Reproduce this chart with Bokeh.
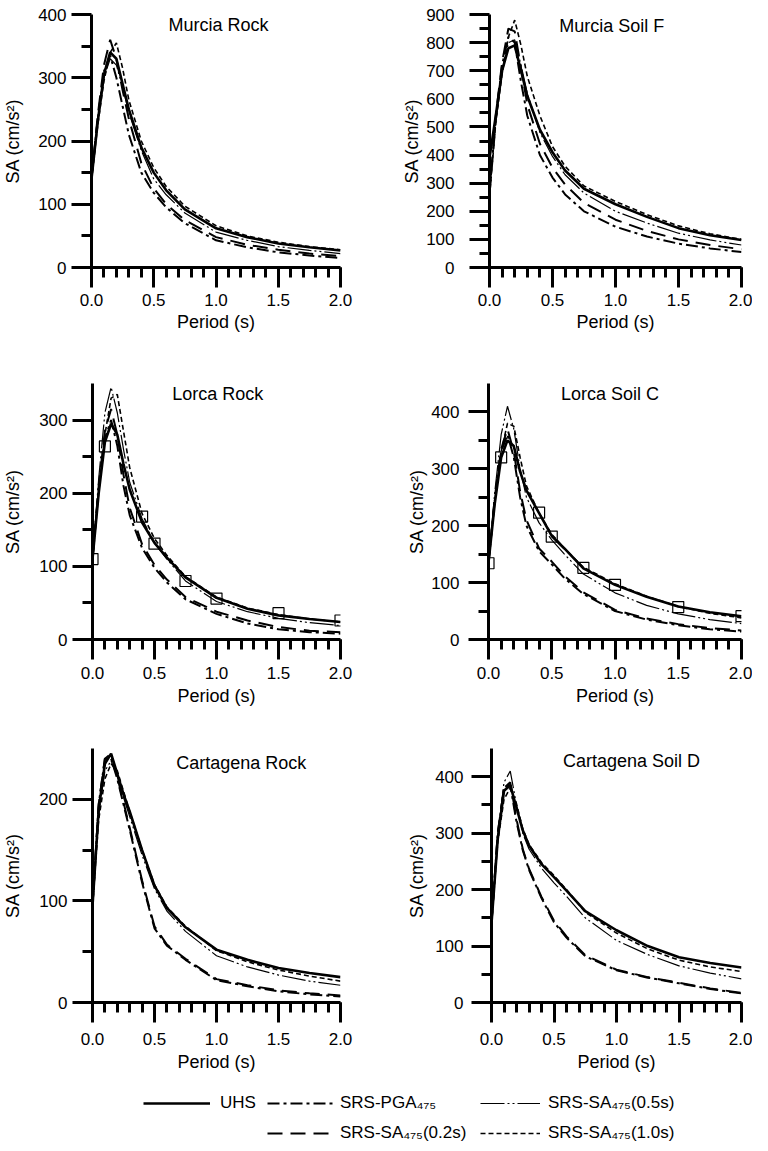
from bokeh.plotting import figure
from bokeh.models import Range1d, FixedTicker, NumeralTickFormatter, Label, Legend, LegendItem
from bokeh.layouts import column, row
from bokeh.embed import file_html
from bokeh.resources import INLINE

FONT = "Liberation Sans"

# ---------------- data ----------------
periods = [0.0, 0.05, 0.1, 0.15, 0.2, 0.25, 0.3, 0.4, 0.5, 0.6, 0.75, 1.0, 1.25, 1.5, 1.75, 2.0]

x_major = [0.0, 0.5, 1.0, 1.5, 2.0]
x_minor = [0.0, 0.1, 0.2, 0.3, 0.4, 0.5, 0.6, 0.7, 0.8, 0.9, 1.0,
           1.1, 1.2, 1.3, 1.4, 1.5, 1.6, 1.7, 1.8, 1.9, 2.0]

series_keys = ["uhs", "pga", "sa02", "sa05", "sa10"]
series_labels = {
    "uhs": "UHS",
    "pga": "SRS-PGA\u2084\u2087\u2085",
    "sa02": "SRS-SA\u2084\u2087\u2085(0.2s)",
    "sa05": "SRS-SA\u2084\u2087\u2085(0.5s)",
    "sa10": "SRS-SA\u2084\u2087\u2085(1.0s)",
}

# Murcia Rock
mr_uhs = [140, 230, 305, 340, 330, 290, 250, 190, 150, 122, 92, 62, 48, 38, 32, 27]
mr_pga = [140, 235, 310, 335, 300, 255, 210, 150, 118, 95, 70, 43, 32, 24, 19, 15]
mr_sa02 = [140, 240, 320, 360, 330, 280, 235, 165, 125, 100, 75, 48, 36, 28, 22, 18]
mr_sa05 = [140, 230, 300, 330, 320, 285, 245, 185, 140, 115, 86, 56, 43, 33, 27, 22]
mr_sa10 = [140, 225, 295, 340, 355, 315, 265, 200, 158, 128, 97, 66, 50, 40, 33, 28]

# Murcia Soil F
ms_uhs = [390, 540, 700, 780, 790, 700, 610, 490, 410, 345, 280, 225, 180, 140, 115, 98]
ms_pga = [270, 530, 720, 820, 800, 660, 540, 400, 320, 260, 200, 145, 110, 85, 68, 55]
ms_sa02 = [260, 540, 730, 850, 840, 710, 580, 440, 355, 295, 230, 170, 130, 100, 80, 65]
ms_sa05 = [280, 520, 700, 800, 810, 720, 620, 480, 395, 330, 265, 200, 158, 122, 98, 80]
ms_sa10 = [250, 515, 690, 820, 880, 790, 680, 540, 430, 360, 290, 235, 188, 148, 120, 100]

# Lorca Rock
lr_uhs = [110, 200, 270, 295, 280, 240, 205, 160, 132, 112, 85, 57, 42, 33, 28, 24]
lr_pga = [110, 205, 275, 300, 265, 210, 170, 125, 98, 78, 55, 35, 22, 14, 10, 8]
lr_sa02 = [110, 210, 285, 315, 280, 225, 180, 130, 102, 82, 58, 38, 26, 17, 12, 10]
lr_sa05 = [110, 220, 310, 345, 310, 260, 215, 165, 132, 110, 80, 52, 38, 29, 23, 19]
lr_sa10 = [110, 205, 280, 330, 335, 285, 235, 172, 138, 115, 86, 58, 43, 34, 28, 24]
lr_sq_periods = [0.0, 0.1, 0.4, 0.5, 0.75, 1.0, 1.5, 2.0]
lr_sq_values = [110, 264, 168, 131, 80, 56, 36, 26]

# Lorca Soil C
lc_uhs = [135, 240, 320, 350, 340, 295, 262, 222, 182, 160, 125, 96, 75, 58, 48, 41]
lc_pga = [135, 245, 330, 360, 320, 250, 200, 155, 132, 108, 80, 50, 35, 25, 18, 14]
lc_sa02 = [135, 250, 335, 370, 330, 260, 210, 160, 137, 112, 83, 52, 37, 27, 20, 16]
lc_sa05 = [135, 260, 360, 410, 370, 300, 250, 205, 175, 150, 115, 82, 60, 45, 35, 28]
lc_sa10 = [135, 245, 330, 380, 375, 320, 270, 222, 185, 160, 127, 98, 76, 58, 46, 38]
lc_sq_periods = [0.0, 0.1, 0.4, 0.5, 0.75, 1.0, 1.5, 2.0]
lc_sq_values = [134, 320, 223, 181, 126, 96, 57, 41]

# Cartagena Rock
cr_uhs = [95, 190, 235, 245, 225, 205, 188, 150, 115, 93, 74, 52, 42, 34, 29, 25]
cr_pga = [95, 195, 240, 240, 220, 195, 170, 118, 73, 56, 42, 22, 16, 11, 8, 6]
cr_sa02 = [95, 195, 240, 245, 222, 197, 172, 120, 75, 57, 43, 23, 17, 12, 9, 7]
cr_sa05 = [95, 185, 228, 238, 222, 202, 183, 145, 112, 90, 70, 46, 35, 27, 21, 17]
cr_sa10 = [95, 180, 220, 235, 228, 208, 188, 150, 116, 94, 75, 51, 40, 32, 26, 21]

# Cartagena Soil D
cd_uhs = [140, 290, 375, 385, 345, 305, 278, 245, 222, 198, 162, 128, 100, 80, 70, 62]
cd_pga = [140, 300, 380, 385, 320, 270, 235, 185, 142, 115, 82, 57, 44, 34, 24, 16]
cd_sa02 = [140, 300, 380, 390, 325, 272, 237, 187, 145, 117, 84, 58, 45, 35, 25, 17]
cd_sa05 = [140, 295, 390, 410, 350, 300, 272, 238, 212, 188, 150, 110, 85, 65, 52, 42]
cd_sa10 = [140, 285, 360, 380, 352, 308, 280, 248, 225, 200, 160, 123, 95, 75, 63, 55]

# ---------------- styles ----------------
STYLES = {
    "uhs": dict(line_width=2.6, line_dash="solid"),
    "pga": dict(line_width=2.0, line_dash="12 4 3 4"),
    "sa02": dict(line_width=2.0, line_dash="15 8"),
    "sa05": dict(line_width=1.2, line_dash="24 3 2 3 2 3"),
    "sa10": dict(line_width=1.6, line_dash="5 3"),
}


def panel(title, series, ymax, ymajor, yminor, w, h, bl, br, bt, bb, title_xy,
          ytick_so, ylab_so, xtick_so, xlab_so, squares=None):
    p = figure(width=w, height=h, x_range=Range1d(0, 2.0), y_range=Range1d(0, ymax),
               output_backend="svg", toolbar_location=None,
               min_border_left=bl, min_border_right=br, min_border_top=bt, min_border_bottom=bb)
    p.outline_line_color = None
    p.grid.visible = False
    p.background_fill_color = "white"
    p.border_fill_color = "white"
    for key in series_keys:
        p.line(periods, series[key], line_color="black", **STYLES[key])
    if squares is not None:
        p.scatter(squares[0], squares[1], marker="square", size=11, fill_color=None,
                  line_color="black", line_width=1.2)
    p.add_layout(Label(x=title_xy[0], y=title_xy[1], text=title, text_align="center",
                       text_baseline="middle", text_font=FONT, text_font_size="18px",
                       text_color="black"))
    for ax in (p.xaxis[0], p.yaxis[0]):
        ax.axis_line_width = 3
        ax.axis_line_color = "black"
        ax.major_tick_line_width = 3
        ax.minor_tick_line_width = 3
        ax.major_tick_line_color = "black"
        ax.minor_tick_line_color = "black"
        ax.major_tick_in = 0
        ax.major_tick_out = 20
        ax.minor_tick_in = 0
        ax.minor_tick_out = 10
        ax.major_label_text_font = FONT
        ax.major_label_text_font_size = "17px"
        ax.major_label_text_color = "black"
        ax.axis_label_text_font = FONT
        ax.axis_label_text_font_size = "18px"
        ax.axis_label_text_font_style = "normal"
        ax.axis_label_text_color = "black"
    xa = p.xaxis[0]
    xa.ticker = FixedTicker(ticks=x_major, minor_ticks=x_minor)
    xa.formatter = NumeralTickFormatter(format="0.0")
    xa.axis_label = "Period (s)"
    xa.major_label_standoff = xtick_so
    xa.axis_label_standoff = xlab_so
    ya = p.yaxis[0]
    ya.ticker = FixedTicker(ticks=ymajor, minor_ticks=yminor)
    ya.formatter = NumeralTickFormatter(format="0")
    ya.axis_label = "SA (cm/s\u00b2)"
    ya.major_label_standoff = ytick_so
    ya.axis_label_standoff = ylab_so
    return p


def S(u, a, b, c, d):
    return {"uhs": u, "pga": a, "sa02": b, "sa05": c, "sa10": d}


y_major_400 = [0, 100, 200, 300, 400]
y_minor_400 = [50, 150, 250, 350]
y_major_900 = [0, 100, 200, 300, 400, 500, 600, 700, 800, 900]
y_minor_900 = [50, 150, 250, 350, 450, 550, 650, 750, 850]
y_major_300 = [0, 100, 200, 300]
y_minor_300 = [50, 150, 250]
y_major_200 = [0, 100, 200]
y_minor_200 = [50, 150]

p1 = panel("Murcia Rock", S(mr_uhs, mr_pga, mr_sa02, mr_sa05, mr_sa10), 400,
           y_major_400, y_minor_400, 376, 345, 85, 36, 14, 78, (1.02, 383),
           5, 12, 6, 3)
p2 = panel("Murcia Soil F", S(ms_uhs, ms_pga, ms_sa02, ms_sa05, ms_sa10), 900,
           y_major_900, y_minor_900, 376, 345, 113, 11, 14, 78, (0.97, 860),
           15, 1, 6, 3)
p3 = panel("Lorca Rock", S(lr_uhs, lr_pga, lr_sa02, lr_sa05, lr_sa10), 350,
           y_major_300, y_minor_300, 376, 370, 85, 36, 38, 76, (1.01, 336),
           5, 13, 7, 4, squares=(lr_sq_periods, lr_sq_values))
p4 = panel("Lorca Soil C", S(lc_uhs, lc_pga, lc_sa02, lc_sa05, lc_sa10), 450,
           y_major_400, y_minor_400, 376, 370, 112, 11, 38, 76, (0.96, 432),
           9, 1, 7, 4, squares=(lc_sq_periods, lc_sq_values))
p5 = panel("Cartagena Rock", S(cr_uhs, cr_pga, cr_sa02, cr_sa05, cr_sa10), 250,
           y_major_200, y_minor_200, 376, 370, 85, 36, 33, 83, (1.2, 236),
           5, 13, 10, 4)
p6 = panel("Cartagena Soil D", S(cd_uhs, cd_pga, cd_sa02, cd_sa05, cd_sa10), 450,
           y_major_400, y_minor_400, 376, 370, 115, 11, 33, 83, (1.12, 427),
           8, 5, 10, 4)

# ---------------- legend ----------------
leg = figure(width=752, height=58, output_backend="svg", toolbar_location=None,
             x_axis_type=None, y_axis_type=None, x_range=Range1d(0, 1), y_range=Range1d(0, 1),
             min_border_left=0, min_border_right=0, min_border_top=0, min_border_bottom=0)
leg.outline_line_color = None
leg.background_fill_color = "white"
leg.border_fill_color = "white"

legend_place = {
    "uhs": ((143, 30), 67, 10),
    "pga": ((267, 30), 66, 7),
    "sa05": ((480, 30), 60, 8),
    "sa02": ((267, 0), 66, 7),
    "sa10": ((480, 0), 60, 8),
}
hidden_x = [-10, -9]
hidden_y = [-10, -10]
for key in series_keys:
    r = leg.line(hidden_x, hidden_y, line_color="black", **STYLES[key])
    loc, gw, so = legend_place[key]
    lg = Legend(items=[LegendItem(label=series_labels[key], renderers=[r])],
                location=loc, orientation="horizontal", glyph_width=gw, glyph_height=20,
                label_height=20, label_standoff=so, padding=0, margin=0,
                border_line_color=None, background_fill_alpha=0,
                label_text_font=FONT, label_text_font_size="17px", label_text_color="black")
    leg.add_layout(lg, "center")

layout = column(row(p1, p2), row(p3, p4), row(p5, p6), leg)

open("out.html", "w").write(file_html(layout, INLINE))
